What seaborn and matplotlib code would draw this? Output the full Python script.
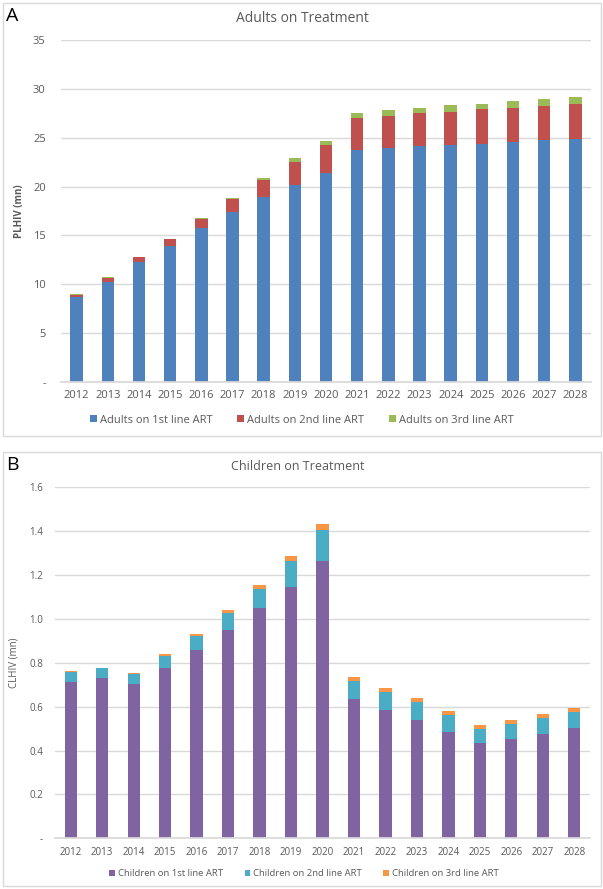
import numpy as np
import pandas as pd
import matplotlib
matplotlib.use('Agg')
import matplotlib.pyplot as plt
import seaborn as sns
from matplotlib.patches import Rectangle

years = [str(y) for y in range(2012, 2029)]

# Adults (mn)
adults_1st = [8.70, 10.20, 12.25, 13.95, 15.73, 17.43, 18.90, 20.15, 21.35, 23.78,
              23.98, 24.12, 24.26, 24.40, 24.57, 24.77, 24.90]
adults_2nd = [0.23, 0.47, 0.51, 0.65, 0.95, 1.33, 1.78, 2.40, 2.91, 3.27,
              3.28, 3.38, 3.41, 3.50, 3.51, 3.51, 3.58]
adults_3rd = [0.04, 0.08, 0.06, 0.05, 0.07, 0.10, 0.22, 0.35, 0.41, 0.48,
              0.58, 0.55, 0.65, 0.60, 0.65, 0.65, 0.66]

# Children (mn)
children_1st = [0.714, 0.729, 0.705, 0.775, 0.858, 0.949, 1.048, 1.147, 1.264, 0.633,
                0.585, 0.539, 0.485, 0.433, 0.453, 0.477, 0.503]
children_2nd = [0.044, 0.046, 0.045, 0.057, 0.065, 0.078, 0.088, 0.117, 0.141, 0.083,
                0.082, 0.084, 0.077, 0.065, 0.069, 0.073, 0.074]
children_3rd = [0.003, 0.003, 0.003, 0.008, 0.008, 0.013, 0.020, 0.023, 0.029, 0.018,
                0.018, 0.017, 0.018, 0.017, 0.019, 0.018, 0.018]

sns.set_theme(style='white')
plt.rcParams['font.family'] = ['Open Sans', 'DejaVu Sans']
txt = '#595959'
grid = '#D9D9D9'

fig = plt.figure(figsize=(6.03, 8.89), dpi=100)

# panel frames
fig.patches.append(Rectangle((3 / 603, 1 - 436 / 889), 598 / 603, 433 / 889,
                             transform=fig.transFigure, fill=False, edgecolor=grid, lw=1))
fig.patches.append(Rectangle((3 / 603, 1 - 886 / 889), 598 / 603, 434 / 889,
                             transform=fig.transFigure, fill=False, edgecolor=grid, lw=1))


def stacked(ax, first, second, third, colors, labels, width):
    df = pd.DataFrame({'year': years, 'l1': first, 'l2': second, 'l3': third})
    df['t2'] = df['l1'] + df['l2']
    df['t3'] = df['t2'] + df['l3']
    # draw totals first, then overlay the lower segments
    for col, c, lab in [('t3', colors[2], labels[2]), ('t2', colors[1], labels[1]),
                        ('l1', colors[0], labels[0])]:
        sns.barplot(data=df, x='year', y=col, color=c, width=width, ax=ax,
                    label=lab, saturation=1, edgecolor='none', linewidth=0)
    ax.set_xlim(-0.5, len(years) - 0.5)
    ax.set_xlabel('')
    for s in ['top', 'right', 'left']:
        ax.spines[s].set_visible(False)
    ax.spines['bottom'].set_color(grid)
    ax.yaxis.grid(True, color=grid, lw=1)
    ax.set_axisbelow(True)
    ax.tick_params(axis='both', length=0, colors=txt)


# Panel A
ax1 = fig.add_axes([61 / 603, 1 - 382 / 889, 530 / 603, 342 / 889])
stacked(ax1, adults_1st, adults_2nd, adults_3rd,
        ['#4F81BD', '#C0504D', '#9BBB59'],
        ['Adults on 1st line ART', 'Adults on 2nd line ART', 'Adults on 3rd line ART'], 0.4)
ax1.set_ylim(0, 35)
yt = np.arange(0, 36, 5)
ax1.set_yticks(yt)
ax1.set_yticklabels(['-'] + [str(v) for v in yt[1:]], fontsize=8)
ax1.tick_params(axis='y', pad=11)
ax1.tick_params(axis='x', labelsize=8, pad=6)
ax1.set_ylabel('PLHIV (mn)', fontsize=7, color=txt, fontweight='bold', labelpad=6)
h, l = ax1.get_legend_handles_labels()
order = [l.index(x) for x in ['Adults on 1st line ART', 'Adults on 2nd line ART', 'Adults on 3rd line ART']]
ax1.legend([h[i] for i in order], [l[i] for i in order], ncol=3, frameon=False,
           loc='center', bbox_to_anchor=(302 / 603, 1 - 420 / 889), bbox_transform=fig.transFigure,
           fontsize=8, labelcolor=txt, handlelength=0.6, handleheight=0.6, handletextpad=0.3,
           columnspacing=2.2)
fig.text(302 / 603, 1 - 18 / 889, 'Adults on Treatment', ha='center', va='center',
         fontsize=10, color=txt)
fig.text(6 / 603, 1 - 16 / 889, 'A', ha='left', va='center', fontsize=14, color='black')

# Panel B
ax2 = fig.add_axes([55 / 603, 1 - 838.3 / 889, 535 / 603, 351 / 889])
stacked(ax2, children_1st, children_2nd, children_3rd,
        ['#8064A2', '#4BACC6', '#F79646'],
        ['Children on 1st line ART', 'Children on 2nd line ART', 'Children on 3rd line ART'], 0.39)
ax2.set_ylim(0, 1.6)
yt2 = np.arange(0, 1.61, 0.2)
ax2.set_yticks(yt2)
ax2.set_yticklabels(['-'] + ['%.1f' % v for v in yt2[1:]], fontsize=7)
ax2.tick_params(axis='y', pad=8.5)
ax2.tick_params(axis='x', labelsize=7, pad=6)
ax2.set_ylabel('CLHIV (mn)', fontsize=7, color=txt, labelpad=7)
h, l = ax2.get_legend_handles_labels()
order = [l.index(x) for x in ['Children on 1st line ART', 'Children on 2nd line ART', 'Children on 3rd line ART']]
ax2.legend([h[i] for i in order], [l[i] for i in order], ncol=3, frameon=False,
           loc='center', bbox_to_anchor=(304 / 603, 1 - 874 / 889), bbox_transform=fig.transFigure,
           fontsize=6.8, labelcolor=txt, handlelength=0.6, handleheight=0.6, handletextpad=0.3,
           columnspacing=2.3)
fig.text(298 / 603, 1 - 467 / 889, 'Children on Treatment', ha='center', va='center',
         fontsize=9, color=txt)
fig.text(6 / 603, 1 - 465 / 889, 'B', ha='left', va='center', fontsize=14, color='black')

fig.savefig('out.png', dpi=100)
